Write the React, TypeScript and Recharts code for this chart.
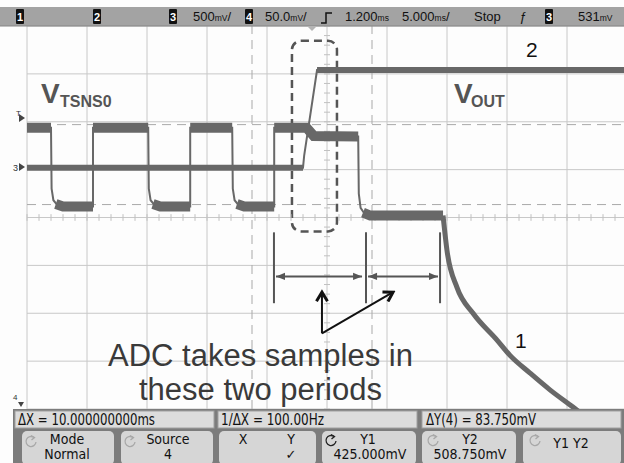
import React from 'react';
import { ComposedChart, Line, XAxis, YAxis, CartesianGrid, ReferenceLine, ReferenceArea } from 'recharts';

// time in ms (5 ms/div), level in screen divisions (0 = centre line)
const timeTicks = [0, 5, 10, 15, 20, 25, 30, 35, 40, 45, 50];
const divTicks = [-4, -3, -2, -1, 0, 1, 2, 3, 4];

// channel 4 - V_TSNS0 (thin edges)
const tsnsTrace = [
  { t: 0, v: 1.875 }, { t: 2.0, v: 1.875 }, { t: 2.05, v: 0.6 }, { t: 2.2, v: 0.36 }, { t: 2.5, v: 0.27 }, { t: 3.0, v: 0.23 },
  { t: 5.5, v: 0.23 }, { t: 5.5, v: 1.875 }, { t: 10.1, v: 1.875 }, { t: 10.15, v: 0.6 }, { t: 10.3, v: 0.36 }, { t: 10.6, v: 0.27 },
  { t: 11.1, v: 0.23 }, { t: 13.6, v: 0.23 }, { t: 13.6, v: 1.875 }, { t: 17.1, v: 1.875 }, { t: 17.15, v: 0.6 }, { t: 17.3, v: 0.36 },
  { t: 17.6, v: 0.27 }, { t: 18.1, v: 0.23 }, { t: 20.6, v: 0.23 }, { t: 20.6, v: 1.875 }, { t: 23.3, v: 1.875 }, { t: 23.9, v: 1.7 },
  { t: 27.6, v: 1.69 }, { t: 27.65, v: 0.5 }, { t: 27.8, v: 0.2 }, { t: 28.1, v: 0.09 }, { t: 28.6, v: 0.04 }, { t: 34.67, v: 0.04 },
];

// channel 4 noise band on the flat parts
const tsnsBand = [
  { t: 0, v: 1.875 }, { t: 2.0, v: 1.875 }, { t: 2.0, v: null },
  { t: 2.4, v: 0.28 }, { t: 3.0, v: 0.23 }, { t: 5.5, v: 0.23 }, { t: 5.5, v: null },
  { t: 5.5, v: 1.875 }, { t: 10.1, v: 1.875 }, { t: 10.1, v: null },
  { t: 10.5, v: 0.28 }, { t: 11.1, v: 0.23 }, { t: 13.6, v: 0.23 }, { t: 13.6, v: null },
  { t: 13.6, v: 1.875 }, { t: 17.1, v: 1.875 }, { t: 17.1, v: null },
  { t: 17.5, v: 0.28 }, { t: 18.1, v: 0.23 }, { t: 20.6, v: 0.23 }, { t: 20.6, v: null },
  { t: 20.6, v: 1.875 }, { t: 23.3, v: 1.875 }, { t: 23.9, v: 1.7 }, { t: 27.6, v: 1.69 }, { t: 27.6, v: null },
  { t: 28.0, v: 0.1 }, { t: 28.6, v: 0.04 }, { t: 34.67, v: 0.04 },
];

// channel 4 discharge after the second sample window
const tsnsTail = [
  { t: 34.67, v: 0.04 }, { t: 35.0, v: -0.69 }, { t: 35.83, v: -1.46 }, { t: 37.17, v: -2.0 }, { t: 39.17, v: -2.56 },
  { t: 40.25, v: -2.88 }, { t: 41.92, v: -3.25 }, { t: 43.58, v: -3.6 }, { t: 45.5, v: -3.96 }, { t: 47.0, v: -4.25 },
];

// channel 3 - VOUT
const voutTrace = [
  { t: 0, v: 1.04 }, { t: 23.0, v: 1.04 }, { t: 23.1, v: 1.3 }, { t: 24.17, v: 3.08 }, { t: 50, v: 3.08 },
];
const voutBand = [
  { t: 0, v: 1.04 }, { t: 23.0, v: 1.04 }, { t: 23.0, v: null }, { t: 24.17, v: 3.08 }, { t: 50, v: 3.08 },
];

// cursors
const xCursors = [18.75, 28.75];
const yCursors = [1.94, 0.27];

// ADC sample windows
const windowEdges = [20.58, 28.25, 34.42];
const windowSpans = [[20.75, 27.92], [28.42, 34.25]];
const calloutFrom = { t: 24.58, v: -2.42 };
const calloutTo = [{ t: 24.58, v: -1.56 }, { t: 30.5, v: -1.56 }];

const minorX = Array.from({ length: 51 }, (_, i) => i);
const minorY = Array.from({ length: 41 }, (_, i) => -4 + i * 0.2);

const TRACE = '#686868';
const sans = "'Liberation Sans', Arial, sans-serif";
const narrow = "'Liberation Sans Narrow', 'DejaVu Sans Condensed', 'Liberation Sans', sans-serif";

function ChBox({ x, n }: { x: number; n: string }) {
  return (
    <g>
      <rect x={x} y={9} width={8} height={15} rx={1} fill="#111" />
      <text x={x + 4} y={21} textAnchor="middle" fontSize={11} fontWeight="bold" fill="#fff" fontFamily={sans}>{n}</text>
    </g>
  );
}

// scope status value: number in normal size, unit squeezed small like the scope font
function Status({ x, num, unit, tail }: { x: number; num: string; unit?: string; tail?: string }) {
  return (
    <text x={x} y={21} fontSize={13} fill="#111" fontFamily={sans}>
      {num}
      {unit && <tspan fontSize={8.5}>{unit}</tspan>}
      {tail}
    </text>
  );
}

function Knob({ cx, cy, dark }: { cx: number; cy: number; dark?: boolean }) {
  const c = dark ? '#222' : '#a8a8a8';
  return (
    <g fill="none" stroke={c} strokeWidth={1.3}>
      <path d={`M${cx + 3},${cy - 4.5} A5,5 0 1 0 ${cx + 5},${cy}`} />
      <path d={`M${cx},${cy - 6.5} L${cx + 3.5},${cy - 4.5} L${cx + 0.5},${cy - 2}`} />
    </g>
  );
}

function Overlay() {
  const t = { fontFamily: narrow, fill: '#111', lengthAdjust: 'spacingAndGlyphs' as const };
  const b = { fontFamily: narrow, fill: '#111', fontSize: 14, textAnchor: 'middle' as const };
  return (
    <svg width={624} height={463} style={{ position: 'absolute', left: 0, top: 0, pointerEvents: 'none' }}>
      {/* status bar */}
      <rect x={0} y={7} width={624} height={19} fill="#a3a3a3" />
      <line x1={0} x2={624} y1={26} y2={26} stroke="#858585" />
      <ChBox x={16} n="1" />
      <ChBox x={93} n="2" />
      <ChBox x={169} n="3" />
      <Status x={193} num="500" unit="mV" tail="/" />
      <ChBox x={245} n="4" />
      <Status x={265} num="50.0" unit="mV" tail="/" />
      <path d="M321,23 H326 V13 H332" fill="none" stroke="#111" strokeWidth={1.5} />
      <Status x={345} num="1.200" unit="ms" />
      <Status x={402} num="5.000" unit="ms" tail="/" />
      <Status x={474} num="Stop" />
      <text x={519} y={21} fontSize={13} fill="#111" fontFamily={sans} fontStyle="italic">ƒ</text>
      <ChBox x={545} n="3" />
      <Status x={578} num="531" unit="mV" />
      <polygon points="308,27 316,27 312,31" fill="#b4b4b4" />

      {/* channel markers */}
      <text x={16} y={116} fontSize={8} fill="#333" fontFamily={sans}>T</text>
      <polygon points="19,114 25,118 19,122" fill="#444" />
      <text x={13} y={171} fontSize={9} fill="#333" fontFamily={sans}>3</text>
      <polygon points="19,163 25,167 19,171" fill="#444" />
      <text x={13} y={400} fontSize={8} fill="#333" fontFamily={sans}>4</text>
      <polygon points="18,402 24,402 21,407" fill="#444" />

      {/* labels */}
      <text x={41} y={103} fontSize={28} fontWeight="bold" fill="#555" fontFamily={sans}>V</text>
      <text x={60} y={107} fontSize={16} fontWeight="bold" fill="#555" fontFamily={sans}>TSNS0</text>
      <text x={454} y={103} fontSize={28} fontWeight="bold" fill="#555" fontFamily={sans}>V</text>
      <text x={471} y={107} fontSize={16} fontWeight="bold" fill="#555" fontFamily={sans}>OUT</text>
      <text x={526} y={57} fontSize={21} fill="#111" fontFamily={sans}>2</text>
      <text x={515} y={348} fontSize={21} fill="#111" fontFamily={sans}>1</text>
      <text x={108} y={366} fontSize={31} fill="#3a3a3a" fontFamily={sans}>ADC takes samples in</text>
      <text x={139} y={400} fontSize={31} fill="#3a3a3a" fontFamily={sans}>these two periods</text>

      {/* softkey panel */}
      <rect x={13} y={409} width={611} height={54} fill="#7c7c7c" />
      <rect x={15} y={411} width={199} height={17} fill="#dcdcdc" stroke="#a0a0a0" />
      <rect x={218} y={411} width={199} height={17} fill="#dcdcdc" stroke="#a0a0a0" />
      <rect x={422} y={411} width={199} height={17} fill="#dcdcdc" stroke="#a0a0a0" />
      <text {...t} x={18} y={425} fontSize={15} textLength={137}>ΔX = 10.000000000ms</text>
      <text {...t} x={221} y={425} fontSize={15} textLength={103}>1/ΔX = 100.00Hz</text>
      <text {...t} x={426} y={425} fontSize={15} textLength={110}>ΔY(4) = 83.750mV</text>

      {[[22, 114], [121, 213], [219, 316], [322, 416], [422, 516], [523, 621]].map(([a, c]) => (
        <rect key={a} x={a} y={431} width={c - a} height={34} rx={5} fill="#d6d6d6" />
      ))}
      <Knob cx={31} cy={442} />
      <text {...b} x={67} y={444}>Mode</text>
      <text {...b} x={67} y={459}>Normal</text>
      <Knob cx={130} cy={442} />
      <text {...b} x={168} y={444}>Source</text>
      <text {...b} x={168} y={459}>4</text>
      <text {...b} x={243} y={444}>X</text>
      <text {...b} x={291} y={444}>Y</text>
      <text x={291} y={459} textAnchor="middle" fontSize={13} fill="#111" fontFamily="'DejaVu Sans', sans-serif">✓</text>
      <Knob cx={331} cy={441} dark />
      <text {...b} x={368} y={444}>Y1</text>
      <text {...b} x={370} y={459}>425.000mV</text>
      <Knob cx={433} cy={441} />
      <text {...b} x={470} y={444}>Y2</text>
      <text {...b} x={470} y={459}>508.750mV</text>
      <Knob cx={535} cy={441} />
      <text {...b} x={571} y={448}>Y1 Y2</text>
    </svg>
  );
}

export default function App() {
  return (
    <div style={{ position: 'absolute', left: 0, top: 0, width: 624, height: 463, overflow: 'hidden', background: '#fdfdfd' }}>
      <div style={{ position: 'absolute', left: 0, top: 0 }}>
        <ComposedChart width={640} height={463} margin={{ top: 26, right: 13, bottom: 54, left: 27 }}>
          <defs>
            <marker id="solidHead" viewBox="0 0 10 10" refX={10} refY={5} markerWidth={10} markerHeight={9}
              markerUnits="userSpaceOnUse" orient="auto-start-reverse">
              <path d="M0,1 L10,5 L0,9 z" fill="#555" />
            </marker>
            <marker id="openHead" viewBox="0 0 14 14" refX={11} refY={7} markerWidth={14} markerHeight={14}
              markerUnits="userSpaceOnUse" orient="auto">
              <path d="M2,1.5 L11,7 L2,12.5" fill="none" stroke="#111" strokeWidth={3} />
            </marker>
          </defs>
          <CartesianGrid stroke="#c8c8c8" />
          <XAxis type="number" dataKey="t" domain={[0, 50]} ticks={timeTicks} allowDataOverflow hide />
          <YAxis type="number" dataKey="v" domain={[-4, 4]} ticks={divTicks} allowDataOverflow hide />

          {minorX.map((x) => (
            <ReferenceLine key={`mx${x}`} segment={[{ x, y: -0.07 }, { x, y: 0.07 }]} stroke="#c0c0c0" />
          ))}
          {minorY.map((y) => (
            <ReferenceLine key={`my${y.toFixed(1)}`} segment={[{ x: 24.75, y }, { x: 25.25, y }]} stroke="#c0c0c0" />
          ))}
          {xCursors.map((x) => (
            <ReferenceLine key={`xc${x}`} x={x} stroke="#a9a9a9" strokeDasharray="9 6" />
          ))}
          {yCursors.map((y) => (
            <ReferenceLine key={`yc${y}`} y={y} stroke="#a9a9a9" strokeDasharray="9 6" />
          ))}

          <Line data={voutTrace} dataKey="v" type="linear" dot={false} stroke={TRACE} strokeWidth={2} isAnimationActive={false} />
          <Line data={voutBand} dataKey="v" type="linear" dot={false} stroke={TRACE} strokeWidth={6} isAnimationActive={false} />
          <Line data={tsnsTrace} dataKey="v" type="linear" dot={false} stroke={TRACE} strokeWidth={2} isAnimationActive={false} />
          <Line data={tsnsBand} dataKey="v" type="linear" dot={false} stroke={TRACE} strokeWidth={10} isAnimationActive={false} />
          <Line data={tsnsTail} dataKey="v" type="monotone" dot={false} stroke={TRACE} strokeWidth={5} isAnimationActive={false} />

          <ReferenceArea x1={22.08} x2={25.83} y1={-0.29} y2={3.69}
            shape={(p: any) => (
              <rect x={p.x} y={p.y} width={p.width} height={p.height} rx={9} fill="none"
                stroke="#555" strokeWidth={2.5} strokeDasharray="8 5" />
            )} />
          {windowEdges.map((x) => (
            <ReferenceLine key={`we${x}`} segment={[{ x, y: -0.31 }, { x, y: -1.79 }]} stroke="#555" strokeWidth={2} />
          ))}
          {windowSpans.map(([a, c]) => (
            <ReferenceLine key={`ws${a}`} segment={[{ x: a, y: -1.23 }, { x: c, y: -1.23 }]} stroke="#555" strokeWidth={2}
              markerStart="url(#solidHead)" markerEnd="url(#solidHead)" />
          ))}
          {calloutTo.map((p) => (
            <ReferenceLine key={`co${p.t}`} segment={[{ x: calloutFrom.t, y: calloutFrom.v }, { x: p.t, y: p.v }]}
              stroke="#111" strokeWidth={2} markerEnd="url(#openHead)" />
          ))}
        </ComposedChart>
      </div>
      <Overlay />
    </div>
  );
}
